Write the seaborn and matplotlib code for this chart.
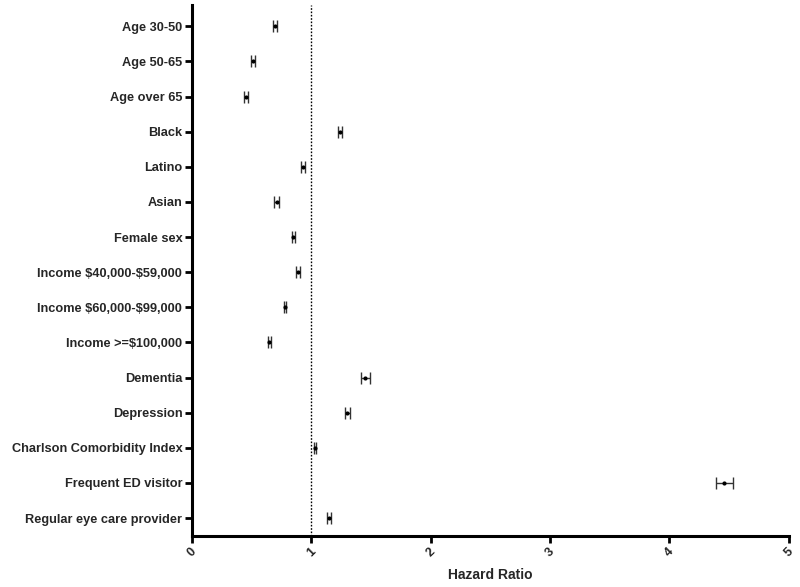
import matplotlib
matplotlib.use("Agg")
import matplotlib.pyplot as plt
import seaborn as sns
import pandas as pd

categories = ["Age 30-50", "Age 50-65", "Age over 65", "Black", "Latino", "Asian",
              "Female sex", "Income $40,000-$59,000", "Income $60,000-$99,000",
              "Income >=$100,000", "Dementia", "Depression",
              "Charlson Comorbidity Index", "Frequent ED visitor",
              "Regular eye care provider"]
hazard_ratio = [0.695, 0.514, 0.452, 1.24, 0.927, 0.709, 0.849, 0.885, 0.779,
                0.648, 1.45, 1.30, 1.03, 4.46, 1.15]
ci_low = [0.675, 0.498, 0.437, 1.22, 0.91, 0.687, 0.838, 0.868, 0.768,
          0.635, 1.42, 1.28, 1.02, 4.386, 1.135]
ci_high = [0.715, 0.530, 0.467, 1.26, 0.95, 0.731, 0.860, 0.901, 0.790,
           0.662, 1.49, 1.32, 1.04, 4.535, 1.165]
x_ticks = [0, 1, 2, 3, 4, 5]

df = pd.DataFrame({"cat": categories, "hr": hazard_ratio, "lo": ci_low, "hi": ci_high})
df["pos"] = range(len(df))

sns.set_theme(style="white")
plt.rcParams["font.family"] = ["Liberation Sans", "DejaVu Sans"]
plt.rcParams["text.parse_math"] = False

fig = plt.figure(figsize=(8.0, 5.87), dpi=100)
ax = fig.add_axes([0.24, 0.087, 0.746, 0.904])

ax.axvline(1, color="black", linestyle=(0, (1.2, 1.2)), linewidth=1.0, zorder=1)

ax.errorbar(df["hr"], df["pos"],
            xerr=[df["hr"] - df["lo"], df["hi"] - df["hr"]],
            fmt="none", ecolor="#333333", elinewidth=1.0, capsize=4.5, capthick=1.0, zorder=2)
sns.scatterplot(data=df, x="hr", y="pos", ax=ax, color="black", marker="o",
                s=9, edgecolor="black", linewidth=0, zorder=3, legend=False)

ax.set_xlim(0, 5)
ax.set_ylim(14.51, -0.6)
ax.set_xticks(x_ticks)
ax.set_xticklabels([str(t) for t in x_ticks], rotation=45, ha="center",
                   fontsize=9, fontweight="bold")
ax.set_yticks(df["pos"])
ax.set_yticklabels(categories, fontsize=9.2, fontweight="bold")
ax.set_xlabel("Hazard Ratio", fontsize=10, fontweight="bold", labelpad=6)
ax.set_ylabel("")

for s in ["top", "right"]:
    ax.spines[s].set_visible(False)
for s in ["left", "bottom"]:
    ax.spines[s].set_linewidth(2.2)
    ax.spines[s].set_color("black")
ax.tick_params(axis="both", which="major", length=5, width=2.0, color="black",
               left=True, bottom=True, pad=2)

fig.savefig("out.png", dpi=100, facecolor="white")
